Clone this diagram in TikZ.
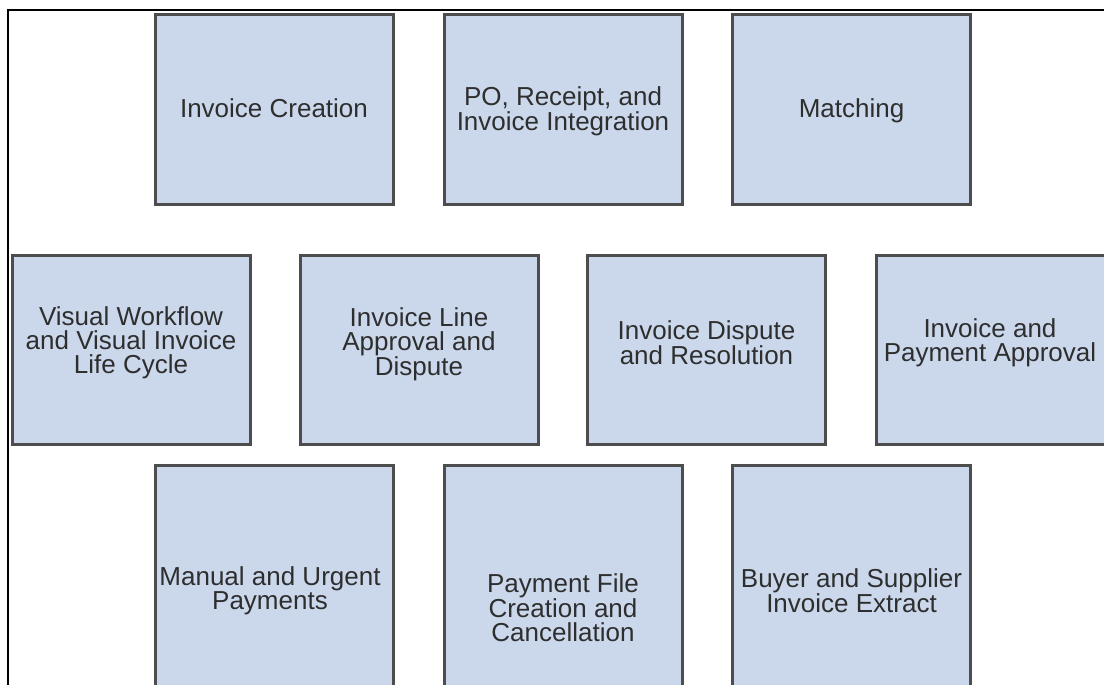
\documentclass[tikz,border=0pt]{standalone}
\usepackage{fontspec}
\setmainfont{Liberation Sans}
\definecolor{boxfill}{HTML}{CBD8EC}
\definecolor{boxline}{HTML}{4D4D4D}
\definecolor{txt}{HTML}{2E2E2E}
\begin{document}
\begin{tikzpicture}[x=1pt,y=-1pt,
  box/.style={draw=boxline, fill=boxfill, line width=3pt, minimum width=238pt, minimum height=190pt, inner sep=0pt, outer sep=0pt},
  lbl/.style={text=txt, align=center, inner sep=0pt, font=\fontsize{26}{24}\selectfont}]
\useasboundingbox (0,0) rectangle (1104,685);
% frame
\coordinate (fc) at (7.5,10.5);
\coordinate (fb) at (7.5,685);
\coordinate (fr) at (1104,10.5);
\draw[line width=2pt, black] (fb) -- (fc) -- (fr);
% row 1
\node[box] (b1) at (274,109.5) {};
\node[box] (b2) at (563,109.5) {};
\node[box] (b3) at (851.5,109.5) {};
% row 2
\node[box, minimum height=189pt] (b4) at (131,350) {};
\node[box, minimum height=189pt] (b5) at (419,350) {};
\node[box, minimum height=189pt] (b6) at (706.5,350) {};
\node[box, minimum height=189pt] (b7) at (995.5,350) {};
% row 3
\node[box, minimum height=260pt] (b8) at (274,595) {};
\node[box, minimum height=260pt] (b9) at (563,595) {};
\node[box, minimum height=260pt] (b10) at (851.5,595) {};
% labels
\node[lbl] (t1) at (274,108) {Invoice Creation};
\node[lbl] (t2) at (563,111) {PO, Receipt, and\\Invoice Integration};
\node[lbl] (t3) at (851.5,111) {Matching};
\node[lbl] (t4) at (131,343) {Visual Workflow\\and Visual Invoice\\Life Cycle};
\node[lbl] (t5) at (419,344) {Invoice Line\\Approval and\\Dispute};
\node[lbl] (t6) at (706.5,343) {Invoice Dispute\\and Resolution};
\node[lbl] (t7) at (990,343) {Invoice and\\Payment Approval};
\node[lbl] (t8) at (270,591) {Manual and Urgent\\Payments};
\node[lbl] (t9) at (563,608) {Payment File\\Creation and\\Cancellation};
\node[lbl] (t10) at (851.5,591) {Buyer and Supplier\\Invoice Extract};
\end{tikzpicture}
\end{document}
